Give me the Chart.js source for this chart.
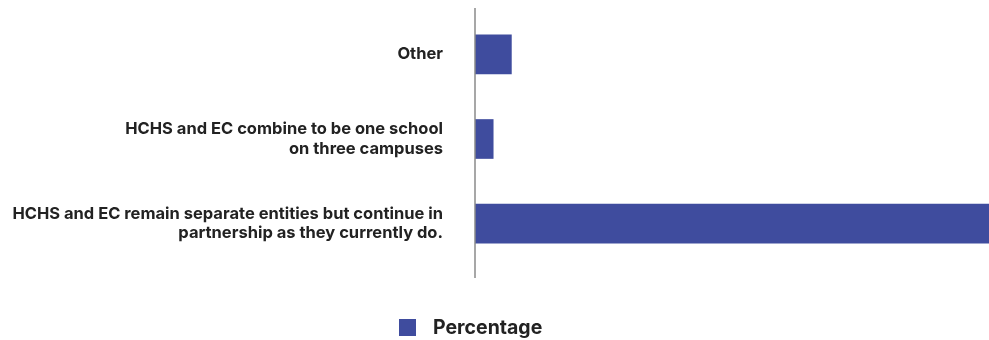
<!DOCTYPE html>
<html>
<head>
<meta charset="utf-8">
<script src="https://cdn.jsdelivr.net/npm/chart.js@4"></script>
<style>
  html, body { margin: 0; padding: 0; background: #fff; }
  #wrap { width: 989px; height: 340px; }
</style>
</head>
<body>
<div id="wrap"><canvas id="chart"></canvas></div>
<script>
// ---------- data ----------
const categories = [
  "Other",
  ["HCHS and EC combine to be one school", "on three campuses"],
  ["HCHS and EC remain separate entities but continue in", "partnership as they currently do."]
];
const seriesName = "Percentage";
const percentages = [6.4, 3.2, 90.4];

const barColor = "#3f4c9e";
const textColor = "#222222";
const labelFont = "Inter, 'Noto Sans', sans-serif";

// vertical axis line, drawn a bit taller than the plot area
const axisLine = {
  id: "axisLine",
  afterDatasetsDraw(chart) {
    const ctx = chart.ctx;
    const x = chart.scales.x.getPixelForValue(0);
    ctx.save();
    ctx.strokeStyle = "#8a8a8a";
    ctx.lineWidth = 1.5;
    ctx.beginPath();
    ctx.moveTo(x, 8);
    ctx.lineTo(x, 278);
    ctx.stroke();
    ctx.restore();
  }
};

// legend under the plot
const bottomLegend = {
  id: "bottomLegend",
  afterDraw(chart) {
    const ctx = chart.ctx;
    const ds = chart.data.datasets[0];
    ctx.save();
    ctx.fillStyle = ds.backgroundColor;
    ctx.fillRect(399, 319, 17, 17);
    ctx.fillStyle = textColor;
    ctx.font = "bold 19.5px " + labelFont;
    ctx.textBaseline = "middle";
    ctx.fillText(ds.label, 433, 328);
    ctx.restore();
  }
};

new Chart(document.getElementById("chart"), {
  type: "bar",
  data: {
    labels: categories,
    datasets: [{
      label: seriesName,
      data: percentages,
      backgroundColor: barColor,
      barThickness: 39
    }]
  },
  options: {
    indexAxis: "y",
    responsive: true,
    maintainAspectRatio: false,
    animation: false,
    layout: { padding: { top: 12, bottom: 74, right: 0, left: 0 } },
    plugins: {
      legend: { display: false },
      tooltip: { enabled: false }
    },
    scales: {
      x: {
        display: false,
        min: 0,
        max: Math.max(...percentages)
      },
      y: {
        grid: { display: false, drawTicks: false },
        border: { display: false },
        afterFit(scale) {
          scale.width = 475;
          scale.paddingTop = 0;
          scale.paddingBottom = 0;
        },
        ticks: {
          padding: 32,
          color: textColor,
          font: { family: labelFont, size: 16.5, weight: "bold", lineHeight: 1.17 }
        }
      }
    }
  },
  plugins: [axisLine, bottomLegend]
});
</script>
</body>
</html>
